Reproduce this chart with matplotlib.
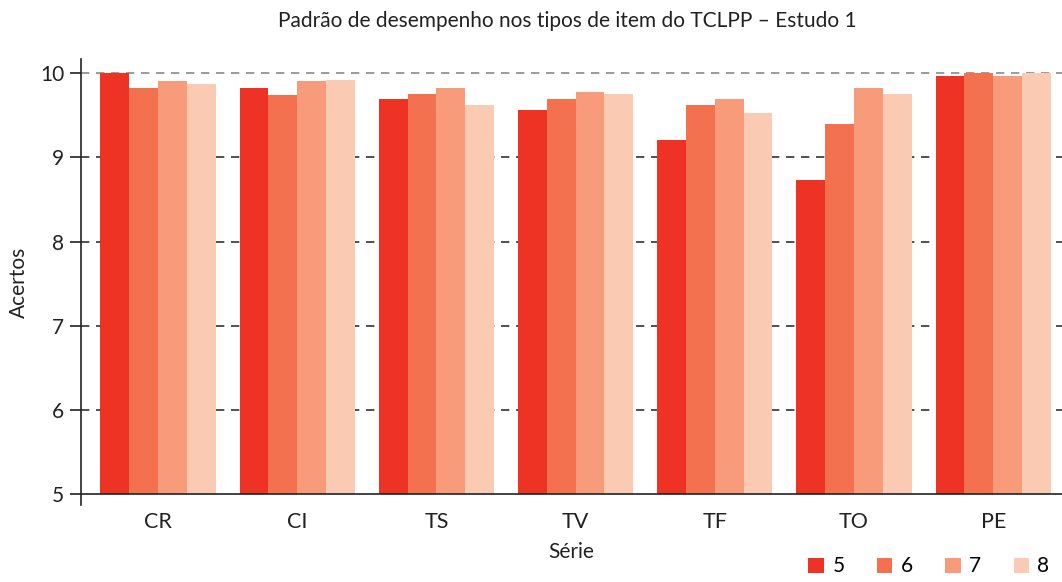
import matplotlib
matplotlib.use("Agg")
import matplotlib.pyplot as plt
import numpy as np
from matplotlib.patches import Patch

plt.rcParams['font.family'] = ['Lato', 'DejaVu Sans']

categories = ["CR", "CI", "TS", "TV", "TF", "TO", "PE"]
series_names = ["5", "6", "7", "8"]
s5 = [10.0, 9.83, 9.69, 9.56, 9.21, 8.73, 9.97]
s6 = [9.83, 9.74, 9.75, 9.69, 9.62, 9.40, 10.0]
s7 = [9.91, 9.91, 9.83, 9.78, 9.69, 9.82, 9.97]
s8 = [9.87, 9.92, 9.62, 9.75, 9.53, 9.75, 10.0]
yticks = [5, 6, 7, 8, 9, 10]
colors = ["#EE3324", "#F3714E", "#F89B7B", "#FBCAB3"]

fig = plt.figure(figsize=(10.62, 5.82), dpi=100)
ax = fig.add_axes([81/1062, 77/582, 1 - 81/1062, (505-59)/582])

x = np.arange(len(categories))
w = 0.207
base = 5
for i, (vals, c) in enumerate(zip([s5, s6, s7, s8], colors)):
    v = np.array(vals)
    ax.bar(x + (i - 1.5) * w, v - base, bottom=base, width=w, color=c,
           linewidth=0, zorder=2, label=series_names[i])

for t in yticks[1:]:
    col = "#8a8a8a" if t == 10 else "#333333"
    ax.axhline(t, color=col, linestyle=(0, (5, 4)), linewidth=1.2, zorder=1)
ax.axhline(5, color="#222222", linewidth=1.2, zorder=3)

ax.set_xlim(-0.553, 6.494)
ax.set_ylim(4.87, 10.17)
ax.set_yticks(yticks)
ax.set_yticklabels([str(t) for t in yticks], fontsize=15, color="#222222")
ax.set_xticks(x)
ax.set_xticklabels(categories, fontsize=15.5, color="#222222")
ax.tick_params(axis='x', length=0, pad=5)
ax.tick_params(axis='y', length=8, width=1.2, color="#222222", direction='out', pad=4)
for s in ["top", "right", "bottom"]:
    ax.spines[s].set_visible(False)
ax.spines["left"].set_color("#222222")
ax.spines["left"].set_linewidth(1.2)

ax.set_ylabel("Acertos", fontsize=15, color="#222222", labelpad=8)
ax.set_xlabel("Série", fontsize=15, color="#222222", labelpad=7)
fig.suptitle("Padrão de desempenho nos tipos de item do TCLPP – Estudo 1",
             fontsize=15, color="#222222", x=567/1062, y=1 - 11/582, va='top')

handles = [Patch(facecolor=c, edgecolor='none') for c in colors]
fig.legend(handles, series_names, loc='lower right', bbox_to_anchor=(1.0, -0.012),
           ncol=4, frameon=False, fontsize=15, handlelength=0.75, handleheight=0.75,
           columnspacing=1.55, handletextpad=0.4, borderaxespad=0.2)

fig.savefig("out.png", dpi=100)
